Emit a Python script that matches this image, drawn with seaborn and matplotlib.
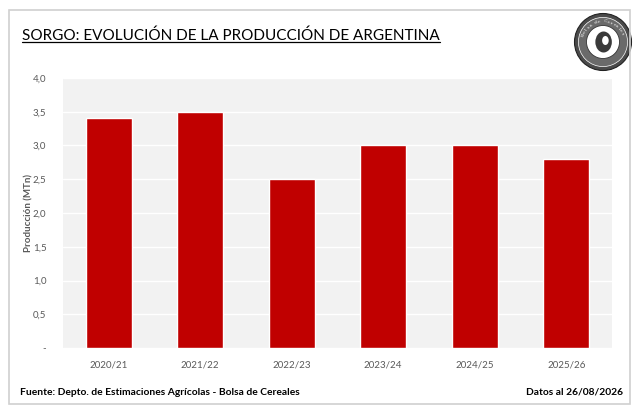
import numpy as np
import pandas as pd
import seaborn as sns
import matplotlib.pyplot as plt
from matplotlib.patches import Rectangle, Circle, Ellipse
from matplotlib.lines import Line2D
from matplotlib.ticker import FuncFormatter

campaigns = ["2020/21", "2021/22", "2022/23", "2023/24", "2024/25", "2025/26"]
production = [3.4, 3.5, 2.5, 3.0, 3.0, 2.8]

title = "SORGO: EVOLUCIÓN DE LA PRODUCCIÓN DE ARGENTINA"
source = "Fuente: Depto. de Estimaciones Agrícolas - Bolsa de Cereales"
date_note = "Datos al 26/08/2026"

sns.set_theme(style="white")
plt.rcParams["font.family"] = ["Lato", "DejaVu Sans"]

df = pd.DataFrame({"campaign": campaigns, "production": production})

fig = plt.figure(figsize=(6.4, 4.15), dpi=100)
ax = fig.add_axes([63 / 640, 1 - 348 / 415, 549 / 640, 270 / 415])
ax.set_facecolor("#F2F2F2")

sns.barplot(data=df, x="campaign", y="production", color="#C00000",
            width=0.5, saturation=1, ax=ax, zorder=3)

ax.set_ylim(0, 4.0)
ax.set_yticks(np.arange(0, 4.01, 0.5))
ax.yaxis.set_major_formatter(
    FuncFormatter(lambda v, p: "-" if v == 0 else f"{v:.1f}".replace(".", ",")))
ax.grid(axis="y", color="white", linewidth=1.0, zorder=0)
ax.set_axisbelow(True)
for s in ax.spines.values():
    s.set_visible(False)
ax.tick_params(axis="both", length=0, labelsize=7, colors="#595959", pad=9)
ax.tick_params(axis="y", pad=12)
ax.set_xlabel("")
ax.set_ylabel("Producción (MTn)", fontsize=7, color="#595959", fontweight="bold")
ax.yaxis.set_label_coords(-(63 - 33) / 549, 0.5)

# outer frame
fig.patches.append(Rectangle((9 / 640, 1 - 404 / 415), 621 / 640, 394 / 415,
                             transform=fig.transFigure, fill=False,
                             edgecolor="#D0D0D0", linewidth=1.2))

# title with underline
t = fig.text(22 / 640, 1 - 36 / 415, title, fontsize=11, color="black",
             va="center", ha="left")
fig.canvas.draw()
bb = t.get_window_extent().transformed(fig.transFigure.inverted())
fig.lines.append(Line2D([bb.x0, bb.x1], [bb.y0 + 0.002, bb.y0 + 0.002],
                        transform=fig.transFigure, color="black", linewidth=0.9))

# logo (simplified seal)
cx, cy = 603 / 640, 1 - 42 / 415
logo = fig.add_axes([cx - 30 / 640, cy - 30 / 415, 60 / 640, 60 / 415])
logo.set_xlim(-1, 1)
logo.set_ylim(-1, 1)
logo.set_aspect("equal")
logo.axis("off")
logo.add_patch(Circle((0, 0), 0.95, facecolor="#4A4A4A", edgecolor="#222222", lw=0.8))
logo.add_patch(Circle((0, 0), 0.82, facecolor="#6A6A6A", edgecolor="white", lw=0.5))
logo.add_patch(Circle((0, 0), 0.55, facecolor="white", edgecolor="#333333", lw=0.6))
logo.add_patch(Ellipse((0.02, 0.0), 0.55, 0.7, facecolor="#3A3A3A", edgecolor="none"))
logo.add_patch(Ellipse((0.08, 0.05), 0.22, 0.3, facecolor="white", edgecolor="none"))
for i, ch in enumerate("Bolsa de Cereales"):
    ang = np.deg2rad(160 - i * 8.5)
    logo.text(0.69 * np.cos(ang), 0.69 * np.sin(ang), ch, fontsize=3.2,
              color="white", ha="center", va="center", family="DejaVu Serif",
              rotation=np.rad2deg(ang) - 90)

# footer
fig.text(20 / 640, 1 - 392 / 415, source, fontsize=7.4, fontweight="bold",
         color="black", va="center", ha="left")
fig.text(623 / 640, 1 - 392 / 415, date_note, fontsize=7.4, fontweight="bold",
         color="black", va="center", ha="right")

fig.savefig("out.png", dpi=100)
